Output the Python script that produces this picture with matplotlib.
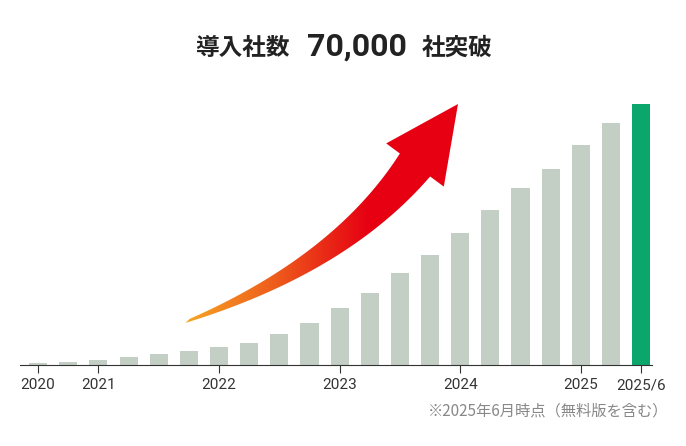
import numpy as np
import matplotlib
matplotlib.use("Agg")
import matplotlib.pyplot as plt
from matplotlib.path import Path
from matplotlib.patches import PathPatch
from matplotlib.colors import LinearSegmentedColormap

values = [500, 800, 1300, 2100, 3000, 3800, 4800, 5900, 8300, 11300, 15300,
          19300, 24700, 29500, 35400, 41500, 47500, 52500, 59000, 65000, 70000]
tick_pos = [0, 2, 6, 10, 14, 18, 20]
tick_labels = ["2020", "2021", "2022", "2023", "2024", "2025", "2025/6"]

W, H = 686, 446
fig = plt.figure(figsize=(W/100, H/100), dpi=100)
jp = "Noto Sans CJK JP"

ax = fig.add_axes([20/W, 1-365/H, 632/W, 261/H])
x = np.arange(len(values))
colors = ["#c3cec5"]*(len(values)-1) + ["#0aa66c"]
ax.bar(x, values, width=0.6, color=colors)
ax.set_xlim(-0.6, 20.36)
ax.set_ylim(0, 70000)
ax.set_xticks(tick_pos)
ax.set_xticklabels(tick_labels, fontsize=11, fontfamily="Roboto", color="#333")
ax.tick_params(axis="x", length=6, color="#333")
ax.set_yticks([])
for s in ["top", "right", "left"]:
    ax.spines[s].set_visible(False)
ax.spines["bottom"].set_color("#333")

ov = fig.add_axes([0, 0, 1, 1], facecolor="none")
ov.axis("off")

t = np.linspace(0, 1, 60)
P0, P1, P2 = np.array([185, 322]), np.array([340, 265]), np.array([415, 165])
pts = ((1-t)**2)[:, None]*P0 + (2*(1-t)*t)[:, None]*P1 + (t**2)[:, None]*P2
d = np.gradient(pts, axis=0)
n = np.stack([-d[:, 1], d[:, 0]], 1)
n /= np.linalg.norm(n, axis=1)[:, None]
w = 1 + 18*t
left = pts + n*w[:, None]
right = pts - n*w[:, None]
tip = np.array([458, 104])
dirv = (P2-P1)/np.linalg.norm(P2-P1)
nv = np.array([-dirv[1], dirv[0]])
hb1 = P2 + nv*36
hb2 = P2 - nv*36
poly = np.vstack([left, hb1, tip, hb2, right[::-1]])
patch = PathPatch(Path(poly, closed=True), facecolor="none", edgecolor="none")
ov.add_patch(patch)
cm = LinearSegmentedColormap.from_list("g", ["#f6a623", "#ee5a1c", "#e60012", "#e60012"])
im = ov.imshow(np.tile(np.linspace(0, 1, 200), (200, 1)), cmap=cm,
               extent=[185, 460, 325, 100], aspect="auto", zorder=3)
im.set_clip_path(patch)
ov.set_xlim(0, W); ov.set_ylim(H, 0)

fig.text(290/W, 1-48/H, "導入社数", fontfamily=jp, fontsize=17, fontweight="bold",
         ha="right", va="center", color="#222")
fig.text(357/W, 1-47/H, "70,000", fontfamily="Roboto", fontsize=23, fontweight="bold",
         ha="center", va="center", color="#222")
fig.text(422/W, 1-48/H, "社突破", fontfamily=jp, fontsize=17, fontweight="bold",
         ha="left", va="center", color="#222")
fig.text(668/W, 1-411/H, "※2025年6月時点（無料版を含む）", fontfamily=jp, fontsize=11,
         ha="right", va="center", color="#888")

fig.savefig("out.png", dpi=100)
